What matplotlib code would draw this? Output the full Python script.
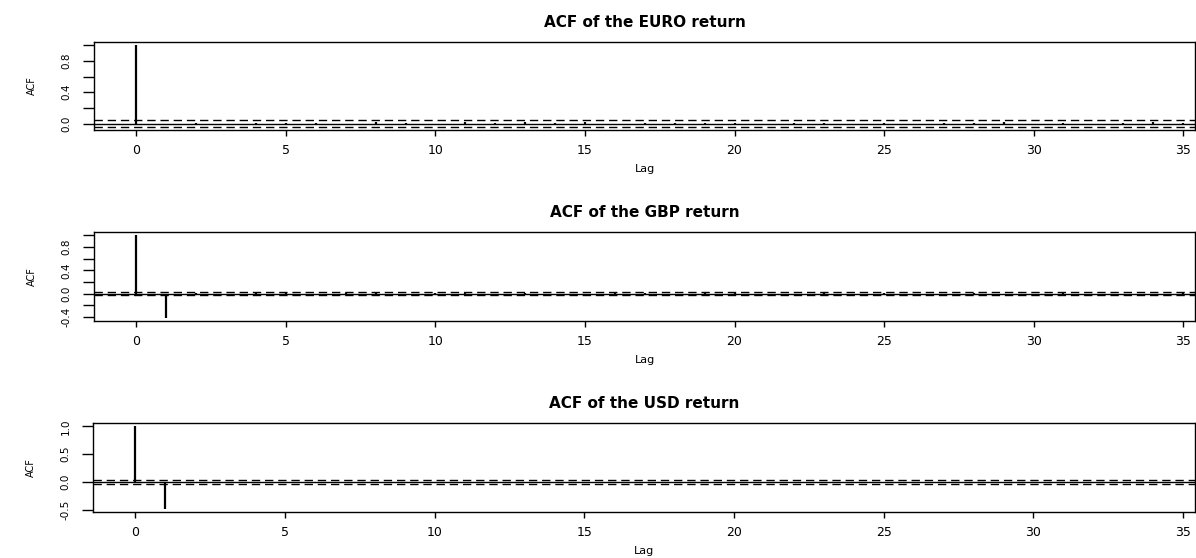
import matplotlib
matplotlib.use("Agg")
import matplotlib.pyplot as plt
import numpy as np

plt.rcParams["font.family"] = ["DejaVu Sans"]
plt.rcParams["lines.scale_dashes"] = False

# ACF values by lag (0..35)
lags = list(range(36))
acf_euro = [1.0, -0.010, 0.005, -0.004, 0.003, 0.002, 0.010, -0.008, 0.025, 0.004,
            -0.010, 0.015, 0.012, 0.018, 0.003, 0.025, -0.005, 0.012, 0.004, 0.010,
            0.003, -0.004, 0.006, 0.002, -0.005, 0.004, -0.008, 0.012, 0.003, 0.015,
            -0.004, 0.012, -0.010, 0.004, 0.020, 0.005]
acf_gbp = [1.0, -0.410, 0.006, -0.004, 0.005, 0.008, -0.003, 0.004, 0.006, -0.005,
           0.003, 0.004, -0.006, 0.003, 0.002, -0.003, 0.004, 0.005, -0.002, 0.003,
           0.004, -0.003, 0.002, 0.006, -0.004, 0.003, 0.002, -0.003, 0.004, 0.002,
           -0.002, 0.003, 0.002, -0.003, 0.002, 0.003]
acf_usd = [1.0, -0.480, 0.004, -0.003, 0.003, 0.004, -0.002, 0.003, 0.002, -0.003,
           0.002, 0.003, -0.002, 0.003, 0.002, -0.002, 0.003, 0.002, -0.002, 0.003,
           0.002, -0.002, 0.003, 0.002, -0.002, 0.002, 0.003, -0.002, 0.002, 0.003,
           -0.002, 0.002, 0.003, -0.002, 0.002, 0.003]

titles = ["ACF of the EURO return", "ACF of the GBP return", "ACF of the USD return"]
series = [acf_euro, acf_gbp, acf_usd]
conf_limits = [0.045, 0.03, 0.028]
ylims = [(-0.082, 1.04), (-0.47, 1.058), (-0.54, 1.06)]
yticks = [
    [0.0, 0.2, 0.4, 0.6, 0.8, 1.0],
    [-0.4, -0.2, 0.0, 0.2, 0.4, 0.6, 0.8, 1.0],
    [-0.5, 0.0, 0.5, 1.0],
]
ytick_labels = [
    ["0.0", "", "0.4", "", "0.8", ""],
    ["-0.4", "", "0.0", "", "0.4", "", "0.8", ""],
    ["-0.5", "0.0", "0.5", "1.0"],
]
xticks = [0, 5, 10, 15, 20, 25, 30, 35]

fig = plt.figure(figsize=(11.96, 5.58), dpi=100)
W, H = 1196, 558
boxes = [(94, 42, 1195, 130), (94, 232, 1195, 321), (93, 423, 1195, 512)]

for i in range(3):
    x0, y0, x1, y1 = boxes[i]
    ax = fig.add_axes([x0 / W, 1 - y1 / H, (x1 - x0) / W, (y1 - y0) / H])
    vals = series[i]
    ax.vlines(lags, 0, vals, color="black", lw=1.6)
    ax.axhline(0, color="black", lw=1.0)
    c = conf_limits[i]
    for yy in (c, -c):
        ax.axhline(yy, color="black", lw=1.0, ls=(0, (6, 3.5)))
    ax.set_xlim(-1.42, 35.4)
    ax.set_ylim(*ylims[i])
    ax.set_xticks(xticks)
    ax.set_xticklabels([str(t) for t in xticks], fontsize=9)
    ax.set_yticks(yticks[i])
    ax.set_yticklabels(ytick_labels[i], fontsize=7.5, rotation=90, va="center")
    ax.tick_params(axis="x", direction="out", length=4, width=1, pad=6)
    ax.tick_params(axis="y", direction="out", length=8, width=1, pad=8)
    for s in ax.spines.values():
        s.set_linewidth(1.0)
    ax.set_title(titles[i], fontsize=11, fontweight="bold", pad=11)
    ax.set_xlabel("Lag", fontsize=8, labelpad=5)
    ax.set_ylabel("ACF", fontsize=7, labelpad=18)

fig.savefig("out.png", dpi=100)
